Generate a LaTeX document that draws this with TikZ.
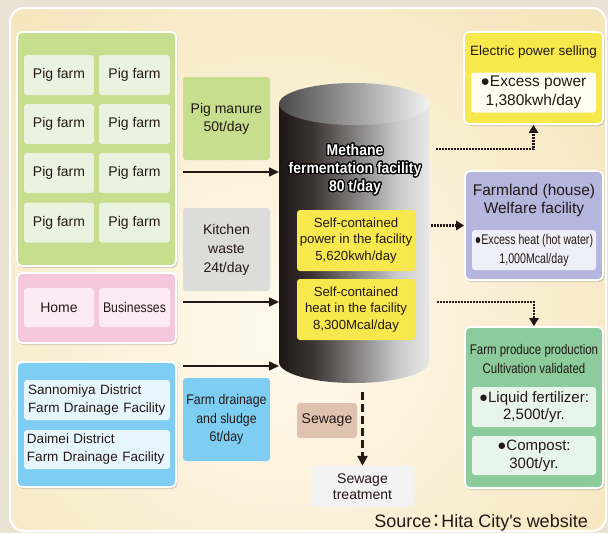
\documentclass[tikz,border=0pt]{standalone}
\usepackage{fontspec}
\setmainfont{Liberation Sans}[Ligatures=TeXOff]
\newfontfamily\condA[FakeStretch=0.88]{Liberation Sans}
\newfontfamily\condB[FakeStretch=0.82]{Liberation Sans}
\newfontfamily\condC[FakeStretch=0.76]{Liberation Sans}
\newfontfamily\titlefont[FakeStretch=0.9]{Liberation Sans Bold}
\newfontfamily\cjk{Noto Sans CJK JP}
\usepackage{contour}
\contourlength{1.1pt}
\contournumber{24}
\usetikzlibrary{arrows.meta,shadows}
\newcommand\fsz[2]{\fontsize{#1}{#2}\selectfont}
\definecolor{txt}{HTML}{231815}
\definecolor{bgout}{HTML}{EAE3D3}
\definecolor{pin}{HTML}{FFFAEE}
\definecolor{pout}{HTML}{EED391}
\definecolor{gfill}{HTML}{C6DE8D}
\definecolor{gcell}{HTML}{EAF3E0}
\definecolor{kgray}{HTML}{DCDCDA}
\definecolor{pfill}{HTML}{F5C7DA}
\definecolor{pcell}{HTML}{FCEBF2}
\definecolor{bfill}{HTML}{7ECEF3}
\definecolor{bcell}{HTML}{E7F5FD}
\definecolor{yfill}{HTML}{F7E84D}
\definecolor{ycell}{HTML}{FFFEF0}
\definecolor{vfill}{HTML}{B5B6DE}
\definecolor{vcell}{HTML}{EFEFF9}
\definecolor{grfill}{HTML}{8CCB9B}
\definecolor{grcell}{HTML}{E8F5EA}
\definecolor{sfill}{HTML}{DFC3AF}
\definecolor{stfill}{HTML}{F2F2F2}
\definecolor{cA}{HTML}{1E1614}
\definecolor{cB}{HTML}{3A3331}
\definecolor{cC}{HTML}{8A8888}
\definecolor{cD}{HTML}{C8C8C8}
\definecolor{cE}{HTML}{E8E8E8}
\definecolor{topL}{HTML}{4A4A4A}
\definecolor{topR}{HTML}{F2F2F2}
\pgfdeclarehorizontalshading{cylbody}{100bp}{color(0bp)=(cA); color(25bp)=(cA); color(36bp)=(cB); color(52bp)=(cC); color(64bp)=(cD); color(75bp)=(cE); color(100bp)=(cE)}
\begin{document}
\begin{tikzpicture}[x=1pt,y=-1pt,
  outer/.style={draw=white, line width=1.6pt, rounded corners=5pt, inner sep=0pt,
    drop shadow={opacity=0.28, shadow xshift=1.5pt, shadow yshift=-2pt}},
  cell/.style={rounded corners=3pt, inner sep=0pt, align=center, text=txt, font=\fsz{14}{18}},
  arr/.style={line width=1.5pt, draw=txt, -{Triangle[length=10pt,width=9pt]}},
  dotarr/.style={line width=2.2pt, draw=txt, dash pattern=on 1.6pt off 1.4pt, -{Triangle[length=8pt,width=9pt]}},
  dasharr/.style={line width=2.6pt, draw=txt, dash pattern=on 8pt off 4pt, -{Triangle[length=10pt,width=10pt]}}]
\useasboundingbox (0,0) rectangle (608,533);
% background
\fill[bgout] (0,0) rectangle (608,533);
\begin{scope}
  \clip[rounded corners=14pt] (10,8) rectangle (606,531);
  \shade[inner color=pin, outer color=pout] (280,330) circle (800);
\end{scope}
\draw[white, line width=2pt, rounded corners=14pt] (10,8) rectangle (606,531);

% pig farms
\node[outer, fill=gfill, minimum width=159, minimum height=234] (pigs) at (96.5,149) {};
\foreach \r/\y in {1/75,2/124,3/173,4/222.5}{
  \node[cell, fill=gcell, minimum width=70, minimum height=40] (pf\r a) at (59,\y) {Pig farm};
  \node[cell, fill=gcell, minimum width=71, minimum height=40] (pf\r b) at (134.5,\y) {Pig farm};
}
\node[cell, fill=gfill, minimum width=87, minimum height=83] (manure) at (226.5,118.5) {Pig manure\\50t/day};
\node[cell, fill=kgray, minimum width=87, minimum height=83, font=\fsz{14}{19}] (kitchen) at (226.5,249.5) {Kitchen\\waste\\24t/day};

% homes
\node[outer, fill=pfill, minimum width=159, minimum height=70] (homes) at (96.5,308) {};
\node[cell, fill=pcell, minimum width=70, minimum height=39] (home) at (59,307.5) {Home};
\node[cell, fill=pcell, minimum width=71, minimum height=39, font=\condA\fsz{14}{18}] (biz) at (134.5,307.5) {Businesses};

% drainage
\node[outer, fill=bfill, minimum width=159, minimum height=125] (drains) at (96.5,424.5) {};
\node[cell, fill=bcell, minimum width=146, minimum height=40, text width=138, align=left, font=\fsz{13.5}{18}] (sann) at (97,400) {Sannomiya District\\Farm Drainage Facility};
\node[cell, fill=bcell, minimum width=146, minimum height=39, text width=140, align=left, font=\fsz{13.5}{18}] (daimei) at (97,449.5) {Daimei District\\Farm Drainage Facility};
\node[cell, fill=bfill, minimum width=87, minimum height=83, font=\condA\fsz{14}{18.5}] (fdrain) at (226.5,419.5) {Farm drainage\\and sludge\\6t/day};

% cylinder
\coordinate (cylW) at (279,0);
\shade[shading=cylbody] (279,104) -- (279,362) arc[start angle=180, end angle=0, x radius=75, y radius=21] -- (429,104) -- cycle;
\shade[left color=topL, right color=topR] (354,104) ellipse[x radius=75, y radius=21];
\node[inner sep=0pt, align=center, text=white, font=\titlefont\fsz{15.5}{18}] (title) at (355,170)
  {\contour{black}{Methane}\\\contour{black}{fermentation facility}\\\contour{black}{80 t/day}};
\node[cell, fill=yfill, minimum width=118, minimum height=61, font=\fsz{13.2}{16.5}] (selfpow) at (356,240.5) {Self-contained\\power in the facility\\5,620kwh/day};
\node[cell, fill=yfill, minimum width=118, minimum height=61, font=\fsz{13.2}{16.5}] (selfheat) at (356,309.5) {Self-contained\\heat in the facility\\8,300Mcal/day};

% inputs arrows
\coordinate (s1) at (183,172);
\coordinate (s2) at (183,302);
\coordinate (s3) at (183,366);
\draw[arr] (s1) -- (s1 -| cylW);
\draw[arr] (s2) -- (s2 -| cylW);
\draw[arr] (s3) -- (s3 -| cylW);

% electric
\node[outer, fill=yfill, minimum width=139, minimum height=92] (elec) at (533.5,78) {};
\node[inner sep=0pt, text=txt, font=\fsz{13.5}{16}] (elecT) at (533.5,52) {Electric power selling};
\node[cell, fill=ycell, minimum width=125, minimum height=40, font=\fsz{15.5}{19}] (elecC) at (533.5,92.5) {●Excess power\\1,380kwh/day};

% farmland
\node[outer, fill=vfill, minimum width=138, minimum height=109] (farm) at (534,225.5) {};
\node[inner sep=0pt, align=center, text=txt, font=\fsz{15.5}{18}] (farmT) at (534,200) {Farmland (house)\\Welfare facility};
\node[cell, fill=vcell, minimum width=124, minimum height=40, font=\condC\fsz{14}{19}] (farmC) at (534,250) {●Excess heat (hot water)\\1,000Mcal/day};

% farm produce
\node[outer, fill=grfill, minimum width=138, minimum height=161] (prod) at (534,407.5) {};
\node[inner sep=0pt, align=center, text=txt, font=\condB\fsz{14}{19}] (prodT) at (534,358.5) {Farm produce production\\Cultivation validated};
\node[cell, fill=grcell, minimum width=124, minimum height=40, font=\fsz{15}{17.5}] (liq) at (534,407) {●Liquid fertilizer:\\2,500t/yr.};
\node[cell, fill=grcell, minimum width=124, minimum height=39, font=\fsz{15}{18}] (comp) at (534,455.5) {●Compost:\\300t/yr.};

% output arrows
\coordinate (d1) at (436,149);
\coordinate (d2) at (431,225.5);
\coordinate (d3) at (437,302);
\draw[dotarr] (d1) -| (elec.south);
\draw[dotarr] (d2) -- (farm.west);
\draw[dotarr] (d3) -| (prod.north);

% sewage
\node[cell, fill=sfill, minimum width=60, minimum height=35] (sew) at (327,420.5) {Sewage};
\node[cell, fill=stfill, minimum width=103, minimum height=41, font=\fsz{14}{15.5}] (sewt) at (362.5,486.5) {Sewage\\treatment};
\coordinate (d4) at (362.5,392);
\draw[dasharr] (d4) -- (sewt.north);

\node[anchor=east, inner sep=0pt, text=txt, font=\fsz{18}{20}] (src) at (588,523) {Source\kern-0.2em{\cjk ：}\kern-0.25em Hita City's website};
\end{tikzpicture}
\end{document}
